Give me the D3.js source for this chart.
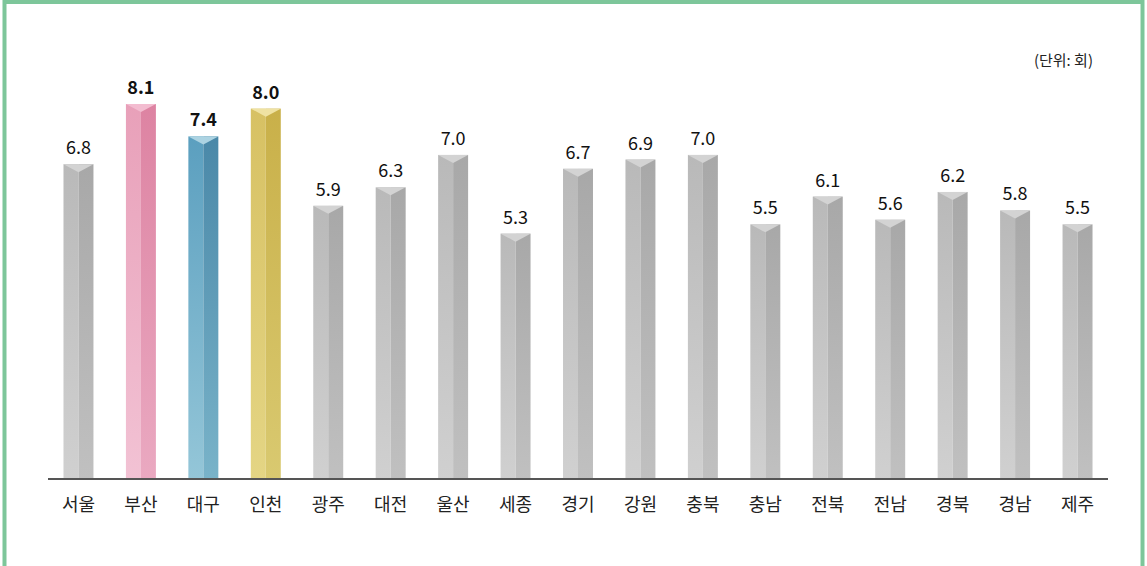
<!DOCTYPE html>
<html>
<head>
<meta charset="utf-8">
<script src="https://cdn.jsdelivr.net/npm/d3@7"></script>
<style>
  body { margin: 0; background: #fff; }
  svg { display: block; font-family: "Noto Sans CJK KR", "Noto Sans", sans-serif; }
</style>
</head>
<body>
<svg id="chart" width="1147" height="566"></svg>
<script>
// 지역별 값 (단위: 회)
var regions = ["서울", "부산", "대구", "인천", "광주", "대전", "울산", "세종", "경기", "강원", "충북", "충남", "전북", "전남", "경북", "경남", "제주"];
var values = [6.8, 8.1, 7.4, 8.0, 5.9, 6.3, 7.0, 5.3, 6.7, 6.9, 7.0, 5.5, 6.1, 5.6, 6.2, 5.8, 5.5];
var highlighted = ["부산", "대구", "인천"];

// colour sets: top face, left face (top/bottom), right face (top/bottom)
var palettes = {
  "기본": { cap: "#d3d3d3", l1: "#b9b9b9", l2: "#d0d0d0", r1: "#a8a8a8", r2: "#c0c0c0" },
  "부산": { cap: "#f3bcd0", l1: "#e8a0b9", l2: "#f2c2d4", r1: "#dd83a2", r2: "#eaa9c1" },
  "대구": { cap: "#acd3e2", l1: "#5b9fbf", l2: "#94c6d8", r1: "#4a88a8", r2: "#79b3c9" },
  "인천": { cap: "#efe2a2", l1: "#d7c163", l2: "#e4d584", r1: "#c9b049", r2: "#d9c970" }
};

var svg = d3.select("#chart");
var baseY = 479;

var x = d3.scaleBand()
  .domain(regions)
  .range([48, 1108])
  .paddingInner(0.52)
  .paddingOuter(0.248);

var y = d3.scaleLinear()
  .domain([0, 8.1])
  .range([baseY, 104]);

var defs = svg.append("defs");
Object.keys(palettes).forEach(function(k, i) {
  var p = palettes[k];
  ["l", "r"].forEach(function(side) {
    var g = defs.append("linearGradient")
      .attr("id", "g" + i + side)
      .attr("x1", 0).attr("y1", 0).attr("x2", 0).attr("y2", 1);
    g.append("stop").attr("offset", "0%").attr("stop-color", p[side + "1"]);
    g.append("stop").attr("offset", "100%").attr("stop-color", p[side + "2"]);
  });
  p.idx = i;
});

function pal(d) {
  return palettes[highlighted.indexOf(d) >= 0 ? d : "기본"];
}

// border
svg.append("rect")
  .attr("x", 4.5).attr("y", 2)
  .attr("width", 1138).attr("height", 580)
  .attr("fill", "none")
  .attr("stroke", "#7dc69a")
  .attr("stroke-width", 4);

var capH = 8;
var bars = svg.selectAll("g.bar")
  .data(regions)
  .enter()
  .append("g")
  .attr("class", "bar");

bars.each(function(d, i) {
  var g = d3.select(this);
  var p = pal(d);
  var x0 = x(d), w = x.bandwidth(), xm = x0 + w / 2;
  var top = y(values[i]);
  // left face
  g.append("rect")
    .attr("x", x0).attr("y", top)
    .attr("width", w / 2).attr("height", baseY - top)
    .attr("fill", "url(#g" + p.idx + "l)");
  // right face
  g.append("rect")
    .attr("x", xm).attr("y", top)
    .attr("width", w / 2).attr("height", baseY - top)
    .attr("fill", "url(#g" + p.idx + "r)");
  // top cap
  g.append("path")
    .attr("d", "M" + x0 + "," + top + "L" + (x0 + w) + "," + top + "L" + xm + "," + (top + capH) + "Z")
    .attr("fill", p.cap);
});

// value labels
svg.selectAll("text.val")
  .data(regions)
  .enter()
  .append("text")
  .attr("class", "val")
  .attr("x", function(d) { return x(d) + x.bandwidth() / 2; })
  .attr("y", function(d, i) { return y(values[i]) - 10; })
  .attr("text-anchor", "middle")
  .attr("font-size", 18)
  .attr("font-weight", function(d) { return highlighted.indexOf(d) >= 0 ? "bold" : "normal"; })
  .attr("fill", "#111")
  .text(function(d, i) { return values[i].toFixed(1); });

// axis
var xAxis = svg.append("g")
  .attr("transform", "translate(0," + baseY + ")")
  .call(d3.axisBottom(x).tickSize(0).tickPadding(19));
xAxis.select(".domain")
  .attr("stroke", "#555")
  .attr("stroke-width", 2)
  .attr("d", "M48,0H1108");
xAxis.selectAll("text")
  .attr("font-size", 18)
  .attr("font-family", "Noto Sans CJK KR")
  .attr("fill", "#222");

svg.append("text")
  .attr("x", 1093).attr("y", 66)
  .attr("text-anchor", "end")
  .attr("font-size", 15)
  .attr("fill", "#222")
  .text("(단위: 회)");
</script>
</body>
</html>
